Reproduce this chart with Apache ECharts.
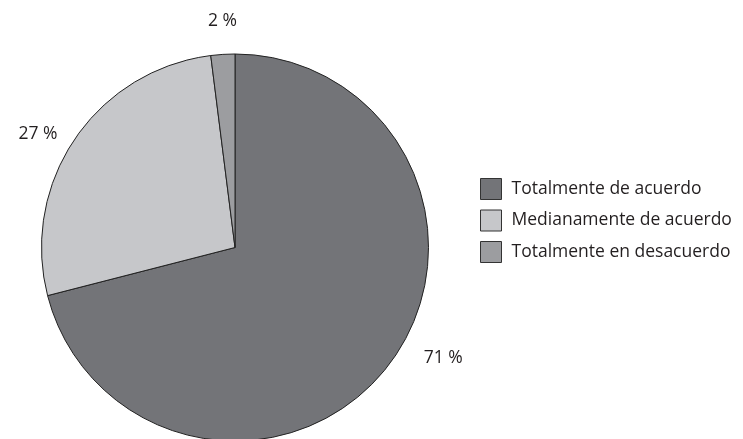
<!DOCTYPE html>
<html><head><meta charset="utf-8">
<script src="https://cdn.jsdelivr.net/npm/echarts@6/dist/echarts.min.js"></script>
<style>html,body{margin:0;padding:0;background:#fff}#c{width:743px;height:439px}</style>
</head><body><div id="c"></div>
<script>
const categories = ["Totalmente de acuerdo", "Medianamente de acuerdo", "Totalmente en desacuerdo"];
const values = [71, 27, 2];
const colors = ["#737478", "#c6c7ca", "#9c9da0"];
const FONT = 'Open Sans';
// per-slice label nudges (style, not data)
const labelNudge = [[19, -17], [0, 4], [20, -18]];
const chart = echarts.init(document.getElementById('c'), null, {renderer: 'canvas'});
chart.setOption({
  animation: false,
  legend: {
    orient: 'vertical', left: 475, top: 173,
    itemWidth: 21, itemHeight: 21, itemGap: 9.5,
    icon: 'rect',
    itemStyle: {borderColor: '#333', borderWidth: 1},
    textStyle: {fontFamily: FONT, fontSize: 17.5, color: '#231f20', padding: [0,0,0,5]},
    data: categories
  },
  series: [{
    type: 'pie',
    center: [235, 247.5], radius: 193.5,
    startAngle: 90, clockwise: true,
    itemStyle: {borderColor: '#222', borderWidth: 1},
    label: {show: true, position: 'outside', formatter: p => p.value + ' %', overflow: 'none',
      fontFamily: FONT, fontSize: 17.5, color: '#231f20'},
    labelLine: {show: false, length: 15, length2: 0},
    data: categories.map((c, i) => ({name: c, value: values[i],
      itemStyle: {color: colors[i]}, label: {offset: labelNudge[i]}}))
  }]
});
</script></body></html>
